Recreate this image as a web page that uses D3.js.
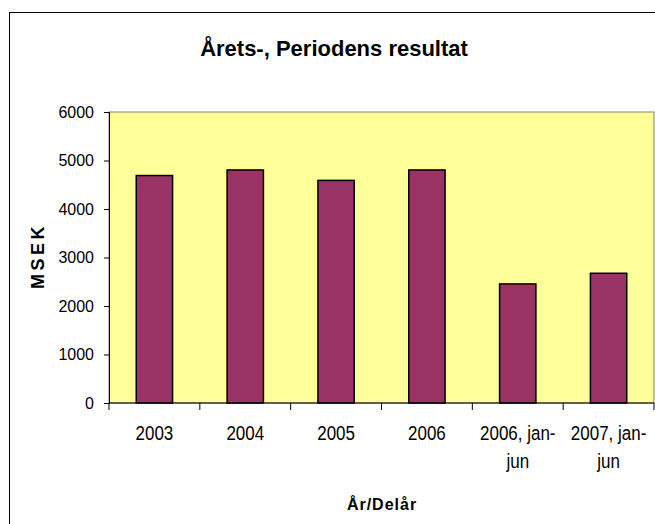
<!DOCTYPE html>
<html>
<head>
<meta charset="utf-8">
<script src="https://cdn.jsdelivr.net/npm/d3@7"></script>
<style>
  body { margin: 0; background: #fff; }
  svg { display: block; font-family: "Liberation Sans", Arial, sans-serif; }
</style>
</head>
<body>
<svg id="viz" width="655" height="524"></svg>
<script>
// chart data
const categories = ["2003", "2004", "2005", "2006", "2006, jan-jun", "2007, jan-jun"];
const catLines = [["2003"], ["2004"], ["2005"], ["2006"], ["2006, jan-", "jun"], ["2007, jan-", "jun"]];
const values = [4690, 4805, 4590, 4805, 2455, 2675];
const yTicks = [0, 1000, 2000, 3000, 4000, 5000, 6000];

const svg = d3.select("#viz");
const margin = {top: 112, right: 1, bottom: 121, left: 109};
const width = 655 - margin.left - margin.right;
const height = 524 - margin.top - margin.bottom;

// outer frame (runs off the bottom/right edge)
svg.append("rect")
    .attr("x", 9.5).attr("y", 12.5)
    .attr("width", 700).attr("height", 600)
    .attr("fill", "#fff").attr("stroke", "#000").attr("stroke-width", 1);

svg.append("text")
    .attr("x", 334).attr("y", 56)
    .attr("text-anchor", "middle")
    .style("font-size", "22px").style("font-weight", "bold")
    .text("Årets-, Periodens resultat");

const g = svg.append("g").attr("transform", `translate(${margin.left},${margin.top})`);

const x = d3.scaleBand().domain(categories).range([0, width]).paddingInner(0.6).paddingOuter(0.3);
const xb = d3.scaleBand().domain(categories).range([0, width]);
const y = d3.scaleLinear().domain([0, 6000]).range([height, 0]);

g.append("rect")
    .attr("width", width).attr("height", height)
    .attr("fill", "#ffff99").attr("stroke", "#808080").attr("stroke-width", 1);

g.selectAll(".bar")
    .data(values)
    .enter()
    .append("rect")
    .attr("class", "bar")
    .attr("x", (d, i) => x(categories[i]))
    .attr("y", d => y(d))
    .attr("width", x.bandwidth())
    .attr("height", d => height - y(d))
    .attr("fill", "#993366")
    .attr("stroke", "#000")
    .attr("stroke-width", 1.5);

// y axis
const yAxis = g.append("g")
    .call(d3.axisLeft(y).tickValues(yTicks).tickSize(5).tickPadding(10).tickFormat(d3.format("d")));
yAxis.select(".domain").attr("stroke", "#000");
yAxis.selectAll("text").style("font-size", "16px").attr("fill", "#000").attr("font-family", "Liberation Sans, Arial, sans-serif");

// x axis: ticks on band boundaries
const xAxis = g.append("g").attr("transform", `translate(0,${height})`);
xAxis.append("line").attr("x1", 0).attr("x2", width).attr("stroke", "#000");
xAxis.selectAll(".tk")
    .data(categories.concat(["end"]))
    .enter()
    .append("line")
    .attr("class", "tk")
    .attr("x1", (d, i) => i < categories.length ? xb(d) : width)
    .attr("x2", (d, i) => i < categories.length ? xb(d) : width)
    .attr("y1", 0).attr("y2", 7)
    .attr("stroke", "#000");

// labels are tall and narrow in the original, squeeze them a bit
const lbl = xAxis.selectAll(".lbl")
    .data(catLines)
    .enter()
    .append("text")
    .attr("class", "lbl")
    .attr("text-anchor", "middle")
    .attr("transform", (d, i) => `translate(${xb(categories[i]) + xb.bandwidth() / 2},37) scale(0.87,1)`)
    .style("font-size", "19.5px");
lbl.selectAll("tspan")
    .data(d => d)
    .enter()
    .append("tspan")
    .attr("x", 0)
    .attr("dy", (d, i) => i === 0 ? 0 : 28)
    .text(d => d);

svg.append("text")
    .attr("x", 382).attr("y", 510)
    .attr("text-anchor", "middle")
    .style("font-size", "16px").style("font-weight", "bold")
    .style("letter-spacing", "1px")
    .text("År/Delår");

svg.append("text")
    .attr("transform", "translate(44,256) rotate(-90)")
    .attr("text-anchor", "middle")
    .style("font-size", "18px").style("font-weight", "bold")
    .style("letter-spacing", "3.5px")
    .text("MSEK");
</script>
</body>
</html>
